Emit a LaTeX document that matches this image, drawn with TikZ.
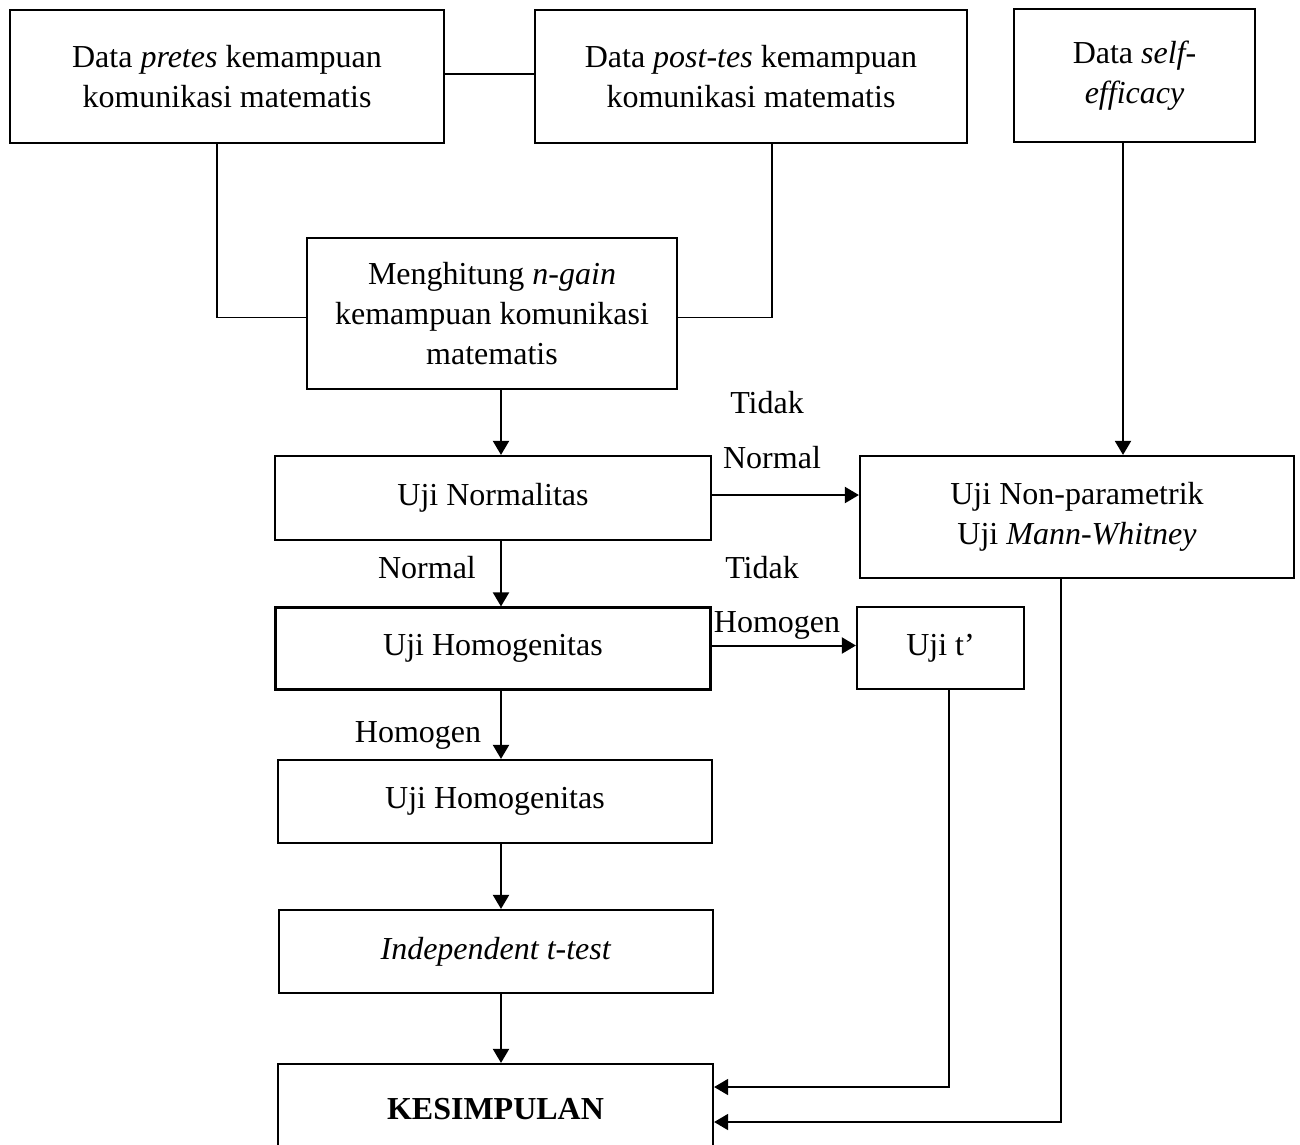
\documentclass[tikz,border=0pt]{standalone}
\usepackage{fontspec}
\setmainfont{Liberation Serif}
\usetikzlibrary{arrows.meta}

\begin{document}
\begin{tikzpicture}[x=1pt,y=-1pt,
        box/.style={draw,line width=2.2pt,align=center,inner sep=0pt,
            font=\fontsize{32}{40}\selectfont},
        lbl/.style={font=\fontsize{32}{40}\selectfont,inner sep=0pt},
        thinline/.style={line width=1.2pt},
        arr/.style={line width=2pt,-{Triangle[length=14pt,width=16pt]}}]
        \useasboundingbox (0,0) rectangle (1300,1144);

        \node[box,minimum width=434,minimum height=133] (pretes) at (227,76.5)
            {Data \textit{pretes} kemampuan\\komunikasi matematis};
        \node[box,minimum width=432,minimum height=133] (posttes) at (751,76.5)
            {Data \textit{post-tes} kemampuan\\komunikasi matematis};
        \node[box,minimum width=241,minimum height=133] (self) at (1134.5,75.5)
            {Data \textit{self-}\\\textit{efficacy}};
        \node[box,minimum width=370,minimum height=151] (ngain) at (492,313.5)
            {Menghitung \textit{n-gain}\\kemampuan komunikasi\\matematis};
        \node[box,minimum width=436,minimum height=84] (normal) at (493,498)
            {Uji Normalitas};
        \node[box,minimum width=434,minimum height=122] (nonpar) at (1077,517)
            {Uji Non-parametrik\\Uji \textit{Mann-Whitney}};
        \node[box,minimum width=435,minimum height=82] (homog) at (493,648.5)
            {Uji Homogenitas};
        \node[box,minimum width=167,minimum height=82] (ujit) at (940.5,648)
            {Uji t’};
        \node[box,minimum width=434,minimum height=83] (homogb) at (495,801.5)
            {Uji Homogenitas};
        \node[box,minimum width=434,minimum height=83] (indep) at (496,951.5)
            {\textit{Independent t-test}};
        \node[box,minimum width=435,minimum height=90] (kesim) at (495.5,1109)
            {\textbf{KESIMPULAN}};

        \node[lbl] (tidaka) at (767,403) {Tidak};
        \node[lbl] (normala) at (772,458) {Normal};
        \node[lbl] (normalb) at (427,568) {Normal};
        \node[lbl] (tidakb) at (762,568) {Tidak};
        \node[lbl] (homlbla) at (777,625) {Homogen};
        \node[lbl] (homlblb) at (418,735) {Homogen};

        \coordinate (mid) at (501,0);
        \coordinate (pre) at (217,0);
        \coordinate (post) at (772,0);
        \coordinate (eff) at (1123,0);
        \coordinate (tline) at (949,0);
        \coordinate (npline) at (1061,0);

        \draw[thinline] ([yshift=2.5pt]pretes.east) -- ([yshift=2.5pt]posttes.west);
        \draw[thinline] (pretes.south -| pre) |- ([yshift=-4pt]ngain.west);
        \draw[thinline] (posttes.south -| post) |- ([yshift=-4pt]ngain.east);

        \draw[arr] (ngain.south -| mid) -- (normal.north -| mid);
        \draw[arr] (self.south -| eff) -- (nonpar.north -| eff);
        \draw[arr] ([yshift=3pt]normal.east) -- ([yshift=3pt]normal.east -| nonpar.west);
        \draw[arr] (normal.south -| mid) -- (homog.north -| mid);
        \draw[arr] ([yshift=3pt]homog.east) -- ([yshift=3pt]homog.east -| ujit.west);
        \draw[arr] (homog.south -| mid) -- (homogb.north -| mid);
        \draw[arr] (homogb.south -| mid) -- (indep.north -| mid);
        \draw[arr] (indep.south -| mid) -- (kesim.north -| mid);

        \draw[arr,line width=1.6pt] (ujit.south -| tline) |- ([yshift=22pt]kesim.east);
        \draw[arr,line width=1.6pt] (nonpar.south -| npline) |- ([yshift=-13pt]kesim.east);
\end{tikzpicture}
\end{document}
